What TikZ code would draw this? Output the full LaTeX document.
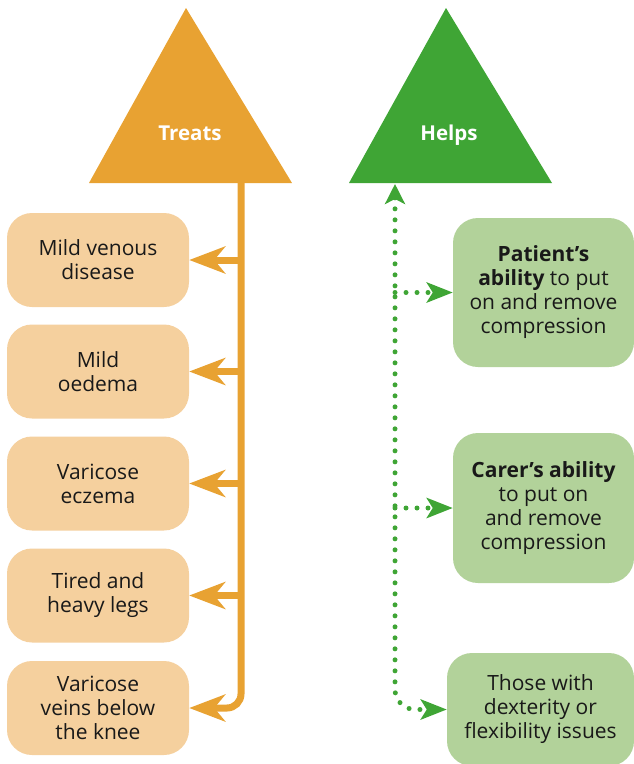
\documentclass[tikz,border=0pt]{standalone}
\usepackage{fontspec}
\setmainfont{Open Sans}
\usetikzlibrary{arrows.meta,shapes.geometric}
\definecolor{orng}{HTML}{E8A232}
\definecolor{orngl}{HTML}{F5D09E}
\definecolor{grn}{HTML}{3FA535}
\definecolor{grnl}{HTML}{B2D29A}
\tikzset{
  lbox/.style={fill=orngl, rounded corners=25pt, minimum width=182pt, minimum height=94pt,
    align=center, text=black!90, font=\fontsize{21}{24}\selectfont, inner sep=0pt},
  gbox/.style={fill=grnl, rounded corners=25pt, minimum width=181pt,
    align=center, text=black!90, font=\fontsize{21}{24}\selectfont, inner sep=0pt},
  trilabel/.style={text=white, font=\fontsize{20.5}{24}\selectfont\bfseries},
  otrunk/.style={draw=orng, line width=7pt},
  oarr/.style={otrunk, -{Stealth[length=36pt,width=27pt,inset=11pt]}},
  gdot/.style={draw=grn, line width=5pt, dash pattern=on 0pt off 11pt, line cap=round},
  garr/.style={gdot, -{Stealth[length=26pt,width=20pt,inset=6pt,fill=grn]}},
}
\begin{document}
\begin{tikzpicture}[x=1pt,y=-1pt]
\useasboundingbox (0,0) rectangle (634,764);
% triangles
\fill[orng] (186,8) -- (292,183) -- (89,183) -- cycle;
\fill[grn] (446,8) -- (552,183) -- (349,183) -- cycle;
\node[trilabel] (treats) at (190,133) {Treats};
\node[trilabel] (helps) at (449,135) {Helps};
\coordinate (tb) at (241,183);
\coordinate (hb) at (395,184);
% left boxes
\node[lbox] (l1) at (98,260) {Mild venous\\disease};
\node[lbox] (l2) at (98,371.5) {Mild\\oedema};
\node[lbox] (l3) at (98,483.5) {Varicose\\eczema};
\node[lbox] (l4) at (98,595.5) {Tired and\\heavy legs};
\node[lbox] (l5) at (98,708) {Varicose\\veins below\\the knee};
% right boxes
\node[gbox, minimum height=149pt] (g1) at (543.5,292.5) {\textbf{Patient’s}\\\textbf{ability} to put\\on and remove\\compression};
\node[gbox, minimum height=150pt] (g2) at (543.5,508) {\textbf{Carer’s ability}\\to put on\\and remove\\compression};
\node[gbox, minimum width=187pt, minimum height=113pt] (g3) at (540.5,709.5) {Those with\\dexterity or\\flexibility issues};
% orange connectors
\draw[oarr, rounded corners=14pt] (tb) |- (l5.east);
\foreach \n in {l1,l2,l3,l4}{
  \draw[oarr] (tb |- \n.east) -- (\n.east);
}
% green connectors
\draw[gdot, rounded corners=20pt,
  {Stealth[length=20pt,width=20pt,inset=5pt,fill=grn]}-{Stealth[length=26pt,width=20pt,inset=6pt,fill=grn]}]
  (hb) |- (g3.west);
\foreach \n in {g1,g2}{
  \draw[garr] (hb |- \n.west) -- (\n.west);
}
\end{tikzpicture}
\end{document}
